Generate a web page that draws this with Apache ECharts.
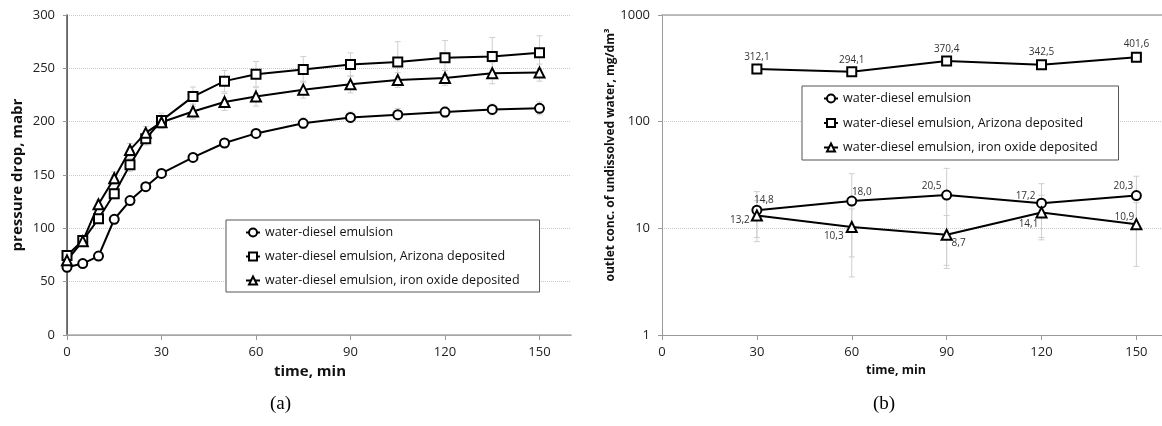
<!DOCTYPE html>
<html>
<head>
<meta charset="utf-8">
<script src="https://cdn.jsdelivr.net/npm/echarts@6/dist/echarts.min.js"></script>
<style>
  html, body { margin: 0; padding: 0; background: #fff; }
  #chart { width: 1162px; height: 426px; }
</style>
</head>
<body>
<div id="chart"></div>
<script>
// ---- data (a): pressure drop vs time ----
var timeA = [0, 5, 10, 15, 20, 25, 30, 40, 50, 60, 75, 90, 105, 120, 135, 150];
var emulsionA = [63.5, 67, 74, 108.5, 126, 139, 151.5, 166.5, 180, 189, 198.5, 204, 206.5, 209, 211.5, 212.5];
var arizonaA = [74.5, 88.5, 109, 132.5, 159.5, 184, 201, 223.5, 238, 244.5, 249, 253.5, 256, 260, 261, 264.5];
var ironA = [70, 88, 122.5, 147, 173.5, 189.5, 199.5, 209.5, 218.5, 223.5, 230, 235, 239, 241, 245.5, 246];
var emulsionAErr = [2, 2, 3, 3, 3, 3, 4, 4, 4, 4, 5, 5, 6, 5, 5, 6];
var arizonaAErr = [3, 3, 4, 5, 6, 6, 7, 9, 10, 12, 12, 11, 19, 16, 18, 16];
var ironAErr = [3, 3, 4, 6, 6, 6, 6, 7, 8, 9, 8, 8, 7, 7, 10, 8];

// ---- data (b): outlet concentration vs time ----
var timeB = [30, 60, 90, 120, 150];
var emulsionB = [14.8, 18.0, 20.5, 17.2, 20.3];
var arizonaB = [312.1, 294.1, 370.4, 342.5, 401.6];
var ironB = [13.2, 10.3, 8.7, 14.1, 10.9];
var emulsionBErr = [7.3, 14.5, 16, 9, 10.5];
var ironBErr = [5, 4.9, 4.5, 6.3, 6.5];

var seriesNames = ['water-diesel emulsion', 'water-diesel emulsion, Arizona deposited', 'water-diesel emulsion, iron oxide deposited'];
var yTicksA = [0, 50, 100, 150, 200, 250, 300];

// label offsets (style) for panel (b)
var offEmulsion = [[7, -10], [10, -9], [-15, -9], [-16, -7], [-13, -9]];
var offArizona = [[0, -12], [0, -12], [0, -12], [0, -12], [0, -13]];
var offIron = [[-17, 5], [-18, 9], [12, 8], [-13, 12], [-12, -7]];

var FONT = 'Open Sans';

function zip(xs, ys) {
  return xs.map(function (x, i) { return [x, ys[i]]; });
}
function zipErr(xs, ys, es) {
  return xs.map(function (x, i) { return [x, ys[i], es[i]]; });
}
function comma(v) {
  return v.toFixed(1).replace('.', ',');
}
function labelled(xs, ys, offs) {
  return xs.map(function (x, i) {
    return {
      value: [x, ys[i]],
      label: { show: true, position: 'inside', offset: offs[i], formatter: comma(ys[i]) }
    };
  });
}

function errRender(params, api) {
  var x = api.value(0), y = api.value(1), e = api.value(2);
  var lo = y - e;
  if (lo <= 0) lo = 0.0001;
  var top = api.coord([x, y + e]);
  var bot = api.coord([x, lo]);
  var st = { stroke: '#cfcfcf', lineWidth: 1 };
  return {
    type: 'group',
    children: [
      { type: 'line', shape: { x1: top[0], y1: top[1], x2: bot[0], y2: bot[1] }, style: st },
      { type: 'line', shape: { x1: top[0] - 3, y1: top[1], x2: top[0] + 3, y2: top[1] }, style: st },
      { type: 'line', shape: { x1: bot[0] - 3, y1: bot[1], x2: bot[0] + 3, y2: bot[1] }, style: st }
    ]
  };
}

function lineSeries(name, symbol, data, xi, yi) {
  return {
    name: name,
    type: 'line',
    xAxisIndex: xi,
    yAxisIndex: yi,
    data: data,
    symbol: symbol,
    symbolSize: symbol === 'triangle' ? 10 : 9,
    showSymbol: true,
    z: 3,
    color: '#000',
    lineStyle: { color: '#000', width: 2 },
    itemStyle: { color: '#fff', borderColor: '#000', borderWidth: 2 },
    label: { color: '#333', fontSize: 10, fontFamily: FONT },
    emphasis: { disabled: true },
    animation: false
  };
}
function errSeries(data, xi, yi) {
  return {
    type: 'custom',
    xAxisIndex: xi,
    yAxisIndex: yi,
    data: data,
    renderItem: errRender,
    z: 1,
    silent: true,
    animation: false
  };
}

var tickLabel = { color: '#222', fontSize: 13, fontFamily: FONT };
function nameStyle(size, pad) {
  return { color: '#111', fontSize: size, fontWeight: 'bold', fontFamily: FONT, padding: pad };
}

var chart = echarts.init(document.getElementById('chart'), null, { renderer: 'canvas' });
chart.setOption({
  backgroundColor: '#fff',
  animation: false,
  grid: [
    { left: 67, top: 15, width: 504, height: 320, outerBoundsMode: 'none' },
    { left: 662, top: 15, width: 506, height: 320, outerBoundsMode: 'none' }
  ],
  legend: [
    {
      data: seriesNames, orient: 'vertical', left: 226, top: 220,
      itemWidth: 14, itemHeight: 10, itemGap: 11,
      padding: [6, 20, 5, 19], borderColor: '#555', borderWidth: 1, backgroundColor: '#fff',
      textStyle: { color: '#111', fontSize: 12.5, fontFamily: FONT },
      selectedMode: false
    },
    {
      data: seriesNames, orient: 'vertical', left: 802, top: 86,
      itemWidth: 14, itemHeight: 10, itemGap: 11.5,
      padding: [6, 21, 6, 21], borderColor: '#555', borderWidth: 1, backgroundColor: '#fff',
      textStyle: { color: '#111', fontSize: 12.5, fontFamily: FONT },
      selectedMode: false
    }
  ],
  xAxis: [
    {
      gridIndex: 0, type: 'value', min: 0, max: 160, interval: 30,
      name: 'time, min', nameLocation: 'middle', nameGap: 26,
      nameTextStyle: nameStyle(15, [0, 18, 0, 0]),
      axisLine: { lineStyle: { color: '#999', width: 1 } },
      axisTick: { show: true, length: 5, lineStyle: { color: '#999' } },
      axisLabel: Object.assign({ showMaxLabel: false, margin: 11 }, tickLabel),
      splitLine: { show: false }
    },
    {
      gridIndex: 0, type: 'value', position: 'top', min: 0, max: 1,
      axisLine: { show: true, lineStyle: { color: '#aaa', width: 1.5 } },
      axisTick: { show: false }, axisLabel: { show: false }, splitLine: { show: false }
    },
    {
      gridIndex: 1, type: 'value', min: 0, max: 160, interval: 30,
      name: 'time, min', nameLocation: 'middle', nameGap: 27,
      nameTextStyle: nameStyle(12.5, [0, 38, 0, 0]),
      axisLine: { lineStyle: { color: '#999', width: 1 } },
      axisTick: { show: true, length: 5, lineStyle: { color: '#999' } },
      axisLabel: Object.assign({ showMaxLabel: false, margin: 11 }, tickLabel),
      splitLine: { show: false }
    },
    {
      gridIndex: 1, type: 'value', position: 'top', min: 0, max: 1,
      axisLine: { show: true, lineStyle: { color: '#aaa', width: 1.5 } },
      axisTick: { show: false }, axisLabel: { show: false }, splitLine: { show: false }
    }
  ],
  yAxis: [
    {
      gridIndex: 0, type: 'value', min: yTicksA[0], max: yTicksA[yTicksA.length - 1], interval: 50,
      name: 'pressure drop, mabr', nameLocation: 'middle', nameGap: 42, nameRotate: 90,
      nameTextStyle: nameStyle(15, [0, 0, 0, 0]),
      axisLine: { show: true, lineStyle: { color: '#999', width: 1 } },
      axisTick: { show: true, length: 4, lineStyle: { color: '#999' } },
      axisLabel: Object.assign({ margin: 12, showMaxLabel: true }, tickLabel),
      splitLine: { show: true, lineStyle: { color: '#c8c8c8', type: 'dotted', width: 1 } }
    },
    {
      gridIndex: 0, type: 'value', position: 'right', min: 0, max: 1,
      axisLine: { show: true, lineStyle: { color: '#555', width: 1.5 } },
      axisTick: { show: false }, axisLabel: { show: false }, splitLine: { show: false }
    },
    {
      gridIndex: 1, type: 'log', logBase: 10, min: 1, max: 1000,
      name: 'outlet conc. of undissolved water, mg/dm³', nameLocation: 'middle', nameGap: 38, nameRotate: 90,
      nameTextStyle: nameStyle(12, [0, 0, 0, 40]),
      axisLine: { show: true, lineStyle: { color: '#999', width: 1 } },
      axisTick: { show: true, length: 4, lineStyle: { color: '#999' } },
      axisLabel: Object.assign({ margin: 12, formatter: function (v) { return String(v); } }, tickLabel),
      splitLine: { show: true, lineStyle: { color: '#c8c8c8', type: 'dotted', width: 1 } },
      minorTick: { show: false }
    }
  ],
  series: [
    errSeries(zipErr(timeA, emulsionA, emulsionAErr), 0, 0),
    errSeries(zipErr(timeA, arizonaA, arizonaAErr), 0, 0),
    errSeries(zipErr(timeA, ironA, ironAErr), 0, 0),
    lineSeries(seriesNames[0], 'circle', zip(timeA, emulsionA), 0, 0),
    lineSeries(seriesNames[1], 'rect', zip(timeA, arizonaA), 0, 0),
    lineSeries(seriesNames[2], 'triangle', zip(timeA, ironA), 0, 0),
    errSeries(zipErr(timeB, emulsionB, emulsionBErr), 2, 2),
    errSeries(zipErr(timeB, ironB, ironBErr), 2, 2),
    lineSeries(seriesNames[0], 'circle', labelled(timeB, emulsionB, offEmulsion), 2, 2),
    lineSeries(seriesNames[1], 'rect', labelled(timeB, arizonaB, offArizona), 2, 2),
    lineSeries(seriesNames[2], 'triangle', labelled(timeB, ironB, offIron), 2, 2)
  ],
  graphic: [
    { type: 'text', left: 270, top: 395, style: { text: '(a)', font: '19px "Liberation Serif"', fill: '#000' } },
    { type: 'text', left: 873, top: 395, style: { text: '(b)', font: '19px "Liberation Serif"', fill: '#000' } }
  ]
});
</script>
</body>
</html>
